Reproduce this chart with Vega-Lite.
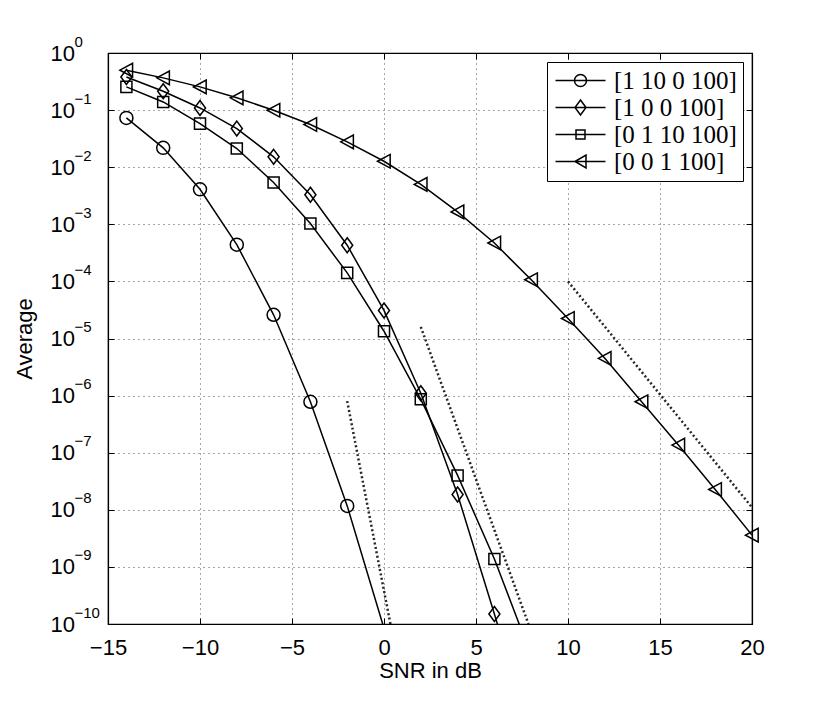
{
  "$schema": "https://vega.github.io/schema/vega-lite/v6.json",
  "width": 644,
  "height": 571,
  "autosize": {"type": "none"},
  "padding": {"left": 108, "top": 53, "right": 78, "bottom": 78},
  "background": "white",
  "config": {
    "view": {"stroke": "black", "strokeWidth": 1.2},
    "axis": {
      "labelFont": "Liberation Sans",
      "titleFont": "Liberation Sans",
      "labelFontSize": 22,
      "titleFontSize": 22,
      "titleFontWeight": "normal",
      "labelColor": "black",
      "titleColor": "black",
      "domainColor": "black",
      "domainWidth": 1.2,
      "tickColor": "black",
      "tickWidth": 1,
      "gridColor": "black",
      "gridDash": [1, 4],
      "gridOpacity": 0.7,
      "gridWidth": 1,
      "labelFlush": false
    }
  },
  "datasets": {
    "main": [
      {"series": "[1 10 0 100]", "snr": -14, "avg": 0.073},
      {"series": "[1 10 0 100]", "snr": -12, "avg": 0.0218},
      {"series": "[1 10 0 100]", "snr": -10, "avg": 0.0041},
      {"series": "[1 10 0 100]", "snr": -8, "avg": 0.00044},
      {"series": "[1 10 0 100]", "snr": -6, "avg": 2.6e-5},
      {"series": "[1 10 0 100]", "snr": -4, "avg": 7.8e-7},
      {"series": "[1 10 0 100]", "snr": -2, "avg": 1.17e-8},
      {"series": "[1 10 0 100]", "snr": 0, "avg": 8.4e-11},
      {"series": "[1 0 0 100]", "snr": -14, "avg": 0.38},
      {"series": "[1 0 0 100]", "snr": -12, "avg": 0.214},
      {"series": "[1 0 0 100]", "snr": -10, "avg": 0.109},
      {"series": "[1 0 0 100]", "snr": -8, "avg": 0.0475},
      {"series": "[1 0 0 100]", "snr": -6, "avg": 0.0152},
      {"series": "[1 0 0 100]", "snr": -4, "avg": 0.0033},
      {"series": "[1 0 0 100]", "snr": -2, "avg": 0.00043},
      {"series": "[1 0 0 100]", "snr": 0, "avg": 3.1e-5},
      {"series": "[1 0 0 100]", "snr": 2, "avg": 1.1e-6},
      {"series": "[1 0 0 100]", "snr": 4, "avg": 1.85e-8},
      {"series": "[1 0 0 100]", "snr": 6, "avg": 1.5e-10},
      {"series": "[1 0 0 100]", "snr": 8, "avg": 1e-12},
      {"series": "[0 1 10 100]", "snr": -14, "avg": 0.255},
      {"series": "[0 1 10 100]", "snr": -12, "avg": 0.139},
      {"series": "[0 1 10 100]", "snr": -10, "avg": 0.058},
      {"series": "[0 1 10 100]", "snr": -8, "avg": 0.0212},
      {"series": "[0 1 10 100]", "snr": -6, "avg": 0.0054},
      {"series": "[0 1 10 100]", "snr": -4, "avg": 0.00103},
      {"series": "[0 1 10 100]", "snr": -2, "avg": 0.000141},
      {"series": "[0 1 10 100]", "snr": 0, "avg": 1.34e-5},
      {"series": "[0 1 10 100]", "snr": 2, "avg": 8.6e-7},
      {"series": "[0 1 10 100]", "snr": 4, "avg": 4.0e-8},
      {"series": "[0 1 10 100]", "snr": 6, "avg": 1.38e-9},
      {"series": "[0 1 10 100]", "snr": 8, "avg": 2.8e-11},
      {"series": "[0 0 1 100]", "snr": -14, "avg": 0.5},
      {"series": "[0 0 1 100]", "snr": -12, "avg": 0.367},
      {"series": "[0 0 1 100]", "snr": -10, "avg": 0.255},
      {"series": "[0 0 1 100]", "snr": -8, "avg": 0.164},
      {"series": "[0 0 1 100]", "snr": -6, "avg": 0.0995},
      {"series": "[0 0 1 100]", "snr": -4, "avg": 0.056},
      {"series": "[0 0 1 100]", "snr": -2, "avg": 0.0278},
      {"series": "[0 0 1 100]", "snr": 0, "avg": 0.0127},
      {"series": "[0 0 1 100]", "snr": 2, "avg": 0.005},
      {"series": "[0 0 1 100]", "snr": 4, "avg": 0.00165},
      {"series": "[0 0 1 100]", "snr": 6, "avg": 0.00047},
      {"series": "[0 0 1 100]", "snr": 8, "avg": 0.000107},
      {"series": "[0 0 1 100]", "snr": 10, "avg": 2.24e-5},
      {"series": "[0 0 1 100]", "snr": 12, "avg": 4.5e-6},
      {"series": "[0 0 1 100]", "snr": 14, "avg": 7.8e-7},
      {"series": "[0 0 1 100]", "snr": 16, "avg": 1.36e-7},
      {"series": "[0 0 1 100]", "snr": 18, "avg": 2.27e-8},
      {"series": "[0 0 1 100]", "snr": 20, "avg": 3.6e-9}
    ],
    "asym": [
      {"grp": "a", "snr": -2, "avg": 8e-7},
      {"grp": "a", "snr": 0.35, "avg": 1e-10},
      {"grp": "b", "snr": 2, "avg": 1.6e-5},
      {"grp": "b", "snr": 7.85, "avg": 1e-10},
      {"grp": "c", "snr": 10, "avg": 1e-4},
      {"grp": "c", "snr": 20, "avg": 1.1e-8}
    ]
  },
  "layer": [
    {
      "data": {"name": "asym"},
      "mark": {"type": "line", "color": "black", "strokeDash": [2, 2.5], "strokeWidth": 2.5, "opacity": 0.85, "clip": true},
      "encoding": {
        "x": {
          "field": "snr", "type": "quantitative",
          "scale": {"domain": [-15, 20], "nice": false, "zero": false},
          "axis": {"values": [-15, -10, -5, 0, 5, 10, 15, 20], "title": "SNR in dB", "grid": true, "tickSize": -6, "labelPadding": 19, "titlePadding": 2}
        },
        "y": {
          "field": "avg", "type": "quantitative",
          "scale": {"type": "log", "domain": [1e-10, 1], "nice": false},
          "axis": {
            "values": [1e-10, 1e-9, 1e-8, 1e-7, 1e-6, 1e-5, 1e-4, 1e-3, 1e-2, 1e-1, 1],
            "title": "Average", "grid": true, "tickSize": -6,
            "labelAlign": "left", "labelPadding": 64, "titlePadding": 14,
            "labelExpr": "'10'"
          }
        },
        "detail": {"field": "grp", "type": "nominal"}
      }
    },
    {
      "data": {"name": "main"},
      "mark": {"type": "line", "color": "black", "strokeWidth": 1.5, "clip": true},
      "encoding": {
        "x": {"field": "snr", "type": "quantitative", "axis": {"orient": "top", "values": [-15, -10, -5, 0, 5, 10, 15, 20], "labels": false, "title": null, "grid": false, "tickSize": -6}},
        "y": {"field": "avg", "type": "quantitative", "axis": {"orient": "right", "values": [1e-10, 1e-9, 1e-8, 1e-7, 1e-6, 1e-5, 1e-4, 1e-3, 1e-2, 1e-1, 1], "labels": false, "title": null, "grid": false, "tickSize": -6}},
        "detail": {"field": "series", "type": "nominal"}
      }
    },
    {
      "data": {"name": "main"},
      "transform": [{"filter": "datum.avg >= 1e-10"}],
      "mark": {"type": "point", "filled": false, "color": "black", "strokeWidth": 1.5, "size": 169, "opacity": 1},
      "encoding": {
        "x": {"field": "snr", "type": "quantitative", "axis": null},
        "y": {
          "field": "avg", "type": "quantitative",
          "axis": {
            "orient": "left", "values": [1e-10, 1e-9, 1e-8, 1e-7, 1e-6, 1e-5, 1e-4, 1e-3, 1e-2, 1e-1, 1],
            "title": null, "grid": false, "ticks": false, "domain": false,
            "labelFontSize": 15, "labelAlign": "left", "labelBaseline": "middle",
            "labelPadding": 34, "labelOffset": -12,
            "labelExpr": "datum.value >= 1 ? '0' : '−' + format(round(-log(datum.value)/LN10), 'd')"
          }
        },
        "shape": {
          "field": "series", "type": "nominal",
          "scale": {
            "domain": ["[1 10 0 100]", "[1 0 0 100]", "[0 1 10 100]", "[0 0 1 100]"],
            "range": ["circle", "M0,-1.15L0.85,0L0,1.15L-0.85,0Z", "M-0.85,-0.85H0.85V0.85H-0.85Z", "M-1,0L0.95,-1.05L0.95,1.05Z"]
          },
          "legend": null
        }
      }
    },
    {
      "data": {"name": "main"},
      "mark": {"type": "point", "filled": false, "color": "black", "strokeWidth": 1.5, "opacity": 0},
      "encoding": {
        "x": {"field": "snr", "type": "quantitative", "axis": null},
        "y": {"field": "avg", "type": "quantitative", "axis": null},
        "shape": {
          "field": "series", "type": "nominal",
          "scale": {
            "domain": ["[1 10 0 100]", "[1 0 0 100]", "[0 1 10 100]", "[0 0 1 100]"],
            "range": [
              "M-1,0H4M2.1,0A0.6,0.6 0 1,1 0.9,0A0.6,0.6 0 1,1 2.1,0",
              "M-1,0H4M1.5,-0.75L2.05,0L1.5,0.75L0.95,0Z",
              "M-1,0H4M1.05,-0.45H1.95V0.45H1.05Z",
              "M-1,0H4M0.95,0L2.05,-0.65L2.05,0.65Z"
            ]
          },
          "legend": {
            "title": null, "orient": "top-right", "offset": 9,
            "symbolSize": 400, "symbolStrokeWidth": 1.5, "symbolStrokeColor": "black",
            "symbolFillColor": "transparent", "symbolOpacity": 1,
            "labelFont": "Liberation Serif", "labelFontSize": 25, "labelColor": "black",
            "labelOffset": 36, "rowPadding": 1, "padding": 6,
            "strokeColor": "black", "fillColor": "white"
          }
        }
      }
    }
  ],
  "resolve": {"axis": {"x": "independent", "y": "independent"}, "scale": {"shape": "independent"}}
}
